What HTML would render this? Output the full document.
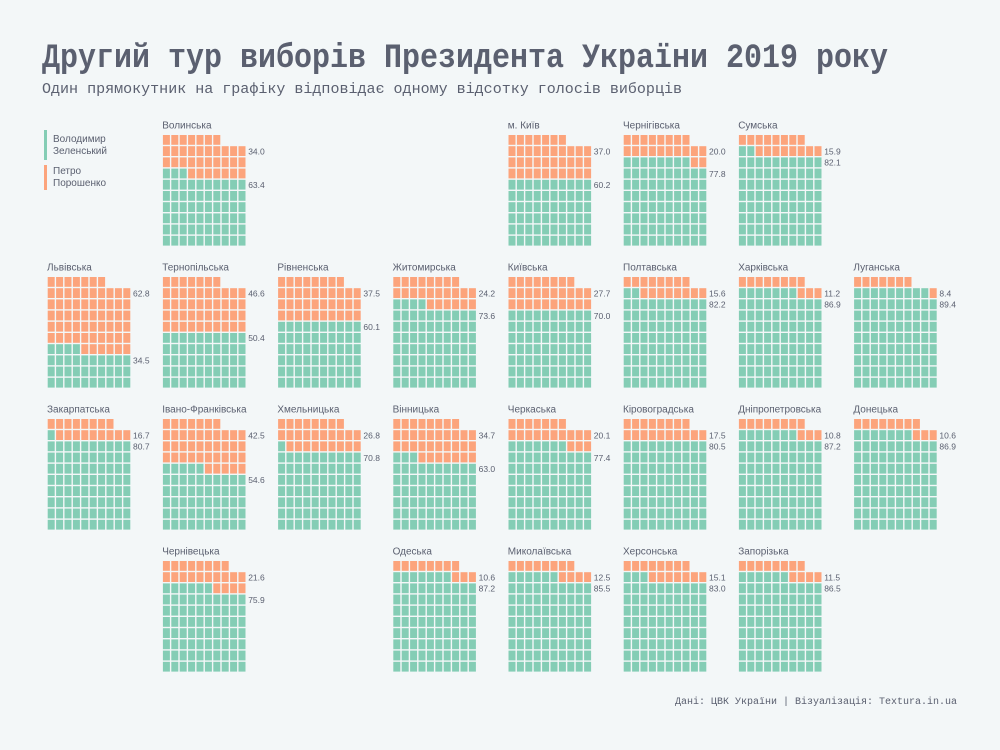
<!DOCTYPE html>
<html><head><meta charset="utf-8">
<style>
html,body{margin:0;padding:0;background:#f3f7f8;}
svg{display:block;}
text{font-family:"Liberation Sans","DejaVu Sans",sans-serif;}
.mono{font-family:"Liberation Mono","DejaVu Sans Mono",monospace;}
</style></head>
<body>
<svg id="chart" width="1000" height="750" viewBox="0 0 1000 750">
<rect width="1000" height="750" fill="#f3f7f8"/>
<text class="mono" x="42" y="67" font-size="34" font-weight="bold" fill="#5b6070" textLength="846" lengthAdjust="spacingAndGlyphs">Другий тур виборів Президента України 2019 року</text>
<text class="mono" x="42" y="93" font-size="14.5" fill="#5b6070" textLength="640" lengthAdjust="spacingAndGlyphs">Один прямокутник на графіку відповідає одному відсотку голосів виборців</text>
<text class="mono" x="957" y="704" font-size="10" fill="#5b6070" text-anchor="end">Дані: ЦВК України | Візуалізація: Textura.in.ua</text>
<g>
<rect x="44" y="130" width="3" height="30" fill="#84cdb5"/>
<text x="53" y="142" font-size="10" fill="#5b6070"><tspan x="53">Володимир</tspan><tspan x="53" dy="12">Зеленський</tspan></text>
<rect x="44" y="165" width="3" height="25" fill="#fca47c"/>
<text x="53" y="174" font-size="10" fill="#5b6070"><tspan x="53">Петро</tspan><tspan x="53" dy="12">Порошенко</tspan></text>
</g>
<g id="waffles"></g>
</svg>
<script>
const regions = ["Волинська","м. Київ","Чернігівська","Сумська",
"Львівська","Тернопільська","Рівненська","Житомирська","Київська","Полтавська","Харківська","Луганська",
"Закарпатська","Івано-Франківська","Хмельницька","Вінницька","Черкаська","Кіровоградська","Дніпропетровська","Донецька",
"Чернівецька","Одеська","Миколаївська","Херсонська","Запорізька"];
const zelenskyPct = [63.4,60.2,77.8,82.1, 34.5,50.4,60.1,73.6,70.0,82.2,86.9,89.4, 80.7,54.6,70.8,63.0,77.4,80.5,87.2,86.9, 75.9,87.2,85.5,83.0,86.5];
const poroshenkoPct = [34.0,37.0,20.0,15.9, 62.8,46.6,37.5,24.2,27.7,15.6,11.2,8.4, 16.7,42.5,26.8,34.7,20.1,17.5,10.8,10.6, 21.6,10.6,12.5,15.1,11.5];
const gridCol = [1,4,5,6, 0,1,2,3,4,5,6,7, 0,1,2,3,4,5,6,7, 1,3,4,5,6];
const gridRow = [0,0,0,0, 1,1,1,1,1,1,1,1, 2,2,2,2,2,2,2,2, 3,3,3,3,3];

const NS="http://www.w3.org/2000/svg";
const colX = c => 47 + c*115.2;
const rowY = r => 134.3 + r*142;
const cellW = 8.4, cellH = 11.2;
function roundHalfEven(v){const f=Math.floor(v), d=v-f; if(Math.abs(d-0.5)<1e-9) return f%2===0?f:f+1; return Math.round(v);}
const root=document.getElementById('waffles');
function mk(tag,attrs){const e=document.createElementNS(NS,tag);for(const k in attrs)e.setAttribute(k,attrs[k]);return e;}
regions.forEach((name,i)=>{
  const x0=colX(gridCol[i]), y0=rowY(gridRow[i]);
  const g=mk('g',{});
  
  
  const t=mk('text',{x:x0,y:y0-6,'font-size':'10',fill:'#5b6070'});
  
  
  t.textContent=name; g.appendChild(t);
  const nz=roundHalfEven(zelenskyPct[i]), np=roundHalfEven(poroshenkoPct[i]);
  const cellXY=k=>{const r=Math.floor(k/10), c=k%10; return [x0+c*cellW, y0+(9-r)*cellH];};
  for(let k=0;k<nz+np;k++){
    const [cx,cy]=cellXY(k);
    const rc=mk('rect',{x:cx+0.7,y:cy+0.7,width:cellW-1.4,height:cellH-1.4,fill:k<nz?'#84cdb5':'#fca47c'});
    
    
    g.appendChild(rc);
  }
  const lab=(cum,val,nm)=>{
    const r=Math.max(Math.floor(cum/10),1);
    const y=y0+(10-r)*cellH+cellH/2+3.3;
    const tx=mk('text',{x:x0+10*cellW+2,y:y,'font-size':'8.5',fill:'#5b6070'});
    
    
    tx.textContent=val.toFixed(1); g.appendChild(tx);
  };
  lab(nz,zelenskyPct[i],'value-label-zelensky');
  lab(nz+np,poroshenkoPct[i],'value-label-poroshenko');
  root.appendChild(g);
});
</script>
</body></html>
